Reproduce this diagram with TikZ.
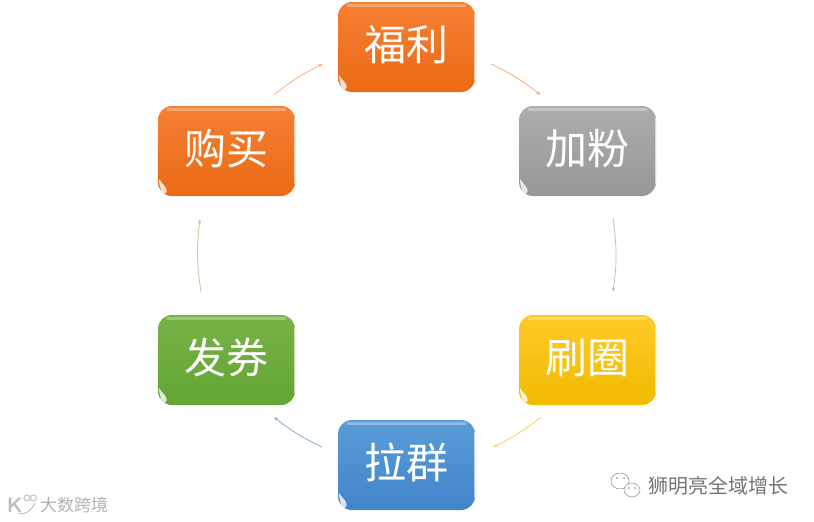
\documentclass[tikz,border=0pt]{standalone}
\usepackage{fontspec}
\newfontfamily\cjk{Noto Sans CJK SC}
\usetikzlibrary{calc,arrows.meta}
\definecolor{orange1}{HTML}{F57F33}
\definecolor{orange2}{HTML}{EB6A15}
\definecolor{gray1}{HTML}{ADADAD}
\definecolor{gray2}{HTML}{979797}
\definecolor{yellow1}{HTML}{FFC928}
\definecolor{yellow2}{HTML}{F0BB00}
\definecolor{blue1}{HTML}{5C9DD8}
\definecolor{blue2}{HTML}{4084CA}
\definecolor{green1}{HTML}{78B145}
\definecolor{green2}{HTML}{62A636}

\begin{document}
\begin{tikzpicture}[
  x=1pt,y=-1pt,
  card/.style={rectangle,rounded corners=14pt,minimum width=137pt,minimum height=90pt,
               inner sep=0pt,text=white,font=\cjk\fontsize{42}{42}\selectfont,
               text height=33pt,text depth=6pt,
               shading=axis,shading angle=0,glossy},
  glossy/.style={path picture={
    % top sheen, right rim, bottom left glint
    \draw[white,opacity=.3,line width=3pt]
      ([xshift=9pt,yshift=-3.5pt]path picture bounding box.north west) --
      ([xshift=-9pt,yshift=-3.5pt]path picture bounding box.north east);
    \draw[white,opacity=.6,line width=1.2pt]
      ([xshift=-.8pt,yshift=-12pt]path picture bounding box.north east) --
      ([xshift=-.8pt,yshift=12pt]path picture bounding box.south east);
    \fill[white,opacity=.8]
      ([xshift=1pt,yshift=17pt]path picture bounding box.south west)
      .. controls ([xshift=1pt,yshift=7pt]path picture bounding box.south west)
      and ([xshift=7pt,yshift=1.5pt]path picture bounding box.south west) ..
      ([xshift=16pt,yshift=2pt]path picture bounding box.south west)
      .. controls ([xshift=11pt,yshift=6pt]path picture bounding box.south west)
      and ([xshift=5pt,yshift=11pt]path picture bounding box.south west) ..
      ([xshift=1pt,yshift=17pt]path picture bounding box.south west);
  }},
  flow/.style={line width=.8pt,-{Stealth[length=4.5pt,width=3.5pt]}},
  mark text/.style={text=black!55,inner sep=0pt},
]

% Canvas
\useasboundingbox (0,0) rectangle (814,522);
\fill[white] (0,0) rectangle (814,522);

% Cards
\node[card,top color=orange1,bottom color=orange2] (fuli) at (406.5,47) {福利};
\node[card,top color=gray1,bottom color=gray2] (jiafen) at (587.5,151) {加粉};
\node[card,top color=yellow1,bottom color=yellow2] (shuaquan) at (587.5,360) {刷圈};
\node[card,top color=blue1,bottom color=blue2] (laqun) at (406.5,465) {拉群};
\node[card,top color=green1,bottom color=green2] (faquan) at (226.5,360) {发券};
\node[card,top color=orange1,bottom color=orange2] (goumai) at (226.5,151) {购买};

% Cycle
\draw[flow,color=orange2!55] ($(fuli.east)+(16,17)$) to[bend left=6] ($(jiafen.north)+(-47,-11)$);
\draw[flow,color=gray2!60] ($(jiafen.south)+(25.5,22)$) to[bend left=8] ($(shuaquan.north)+(25.5,-23)$);
\draw[flow,color=yellow2!65] ($(shuaquan.south)+(-46.5,12)$) to[bend left=6] ($(laqun.east)+(18,-18)$);
\draw[flow,color=blue2!65] ($(laqun.west)+(-16,-18)$) to[bend left=6] ($(faquan.south)+(47.5,12)$);
\draw[flow,color=green2!50] ($(faquan.north)+(-25.5,-23)$) to[bend left=8] ($(goumai.south)+(-26.5,23)$);
\draw[flow,color=orange2!50] ($(goumai.north)+(47.5,-11)$) to[bend left=6] ($(fuli.west)+(-15,17)$);

% Watermark, left
\node[text=black!25,inner sep=0pt,font=\sffamily\bfseries\fontsize{21}{21}\selectfont] (logo) at (15,505) {K};
\draw[black!25,line width=1pt] (18,513) .. controls (24,516) and (32,510) .. (35,503);
\draw[black!25,line width=.9pt] (27,498) circle (3pt) (33.5,498) circle (3pt);
\node[text=black!30,inner sep=0pt,font=\cjk\fontsize{17}{17}\selectfont] (brand) at (74,505) {大数跨境};

% Watermark, right
\draw[black!45,line width=.5pt,fill=white] (620,481) ellipse (9pt and 8pt);
\draw[black!45,line width=.5pt,fill=white] (632,490) ellipse (8pt and 7pt);
\fill[black!50] (617,478) circle (.8pt) (624,478) circle (.8pt) (629,488) circle (.8pt) (635,488) circle (.8pt);
\node[mark text,font=\cjk\fontsize{20}{20}\selectfont] (account) at (718,486) {狮明亮全域增长};

\end{tikzpicture}
\end{document}
